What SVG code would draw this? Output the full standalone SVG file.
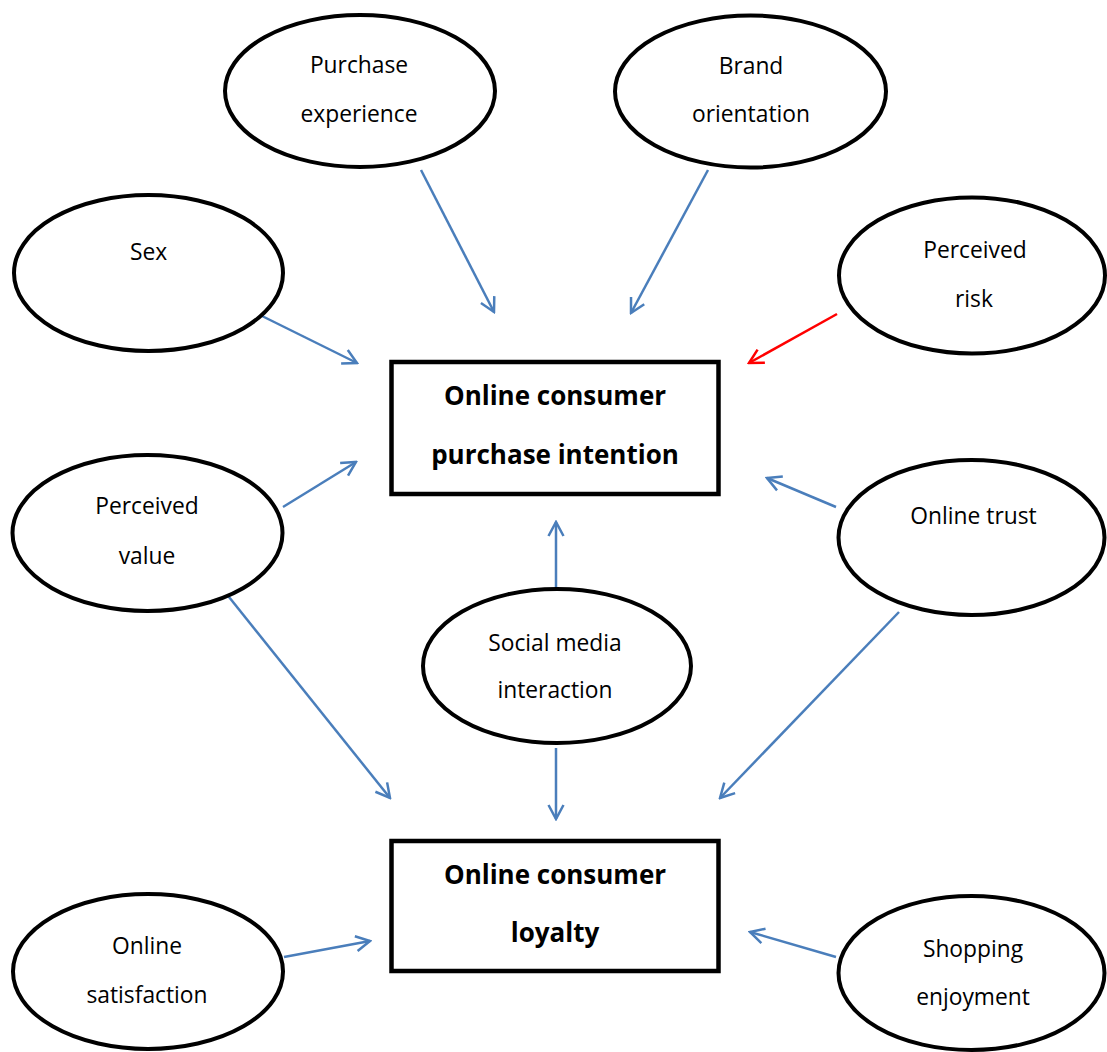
<svg xmlns="http://www.w3.org/2000/svg" width="1107" height="1052" viewBox="0 0 1107 1052">
  <style>
    .oval { fill: #ffffff; stroke: #000000; stroke-width: 4; }
    .box { fill: #ffffff; stroke: #000000; stroke-width: 4.5; }
    .lbl { font-family: "Open Sans", "Liberation Sans", sans-serif; font-size: 22.8px; fill: #000000; text-anchor: middle; }
    .head { font-family: "Open Sans", "Liberation Sans", sans-serif; font-size: 26px; font-weight: bold; fill: #000000; text-anchor: middle; }
    .edge { fill: none; stroke: #4a7ebb; stroke-width: 2.5; marker-end: url(#openBlue); }
    .edge.neg { stroke: #ff0000; marker-end: url(#openRed); }
  </style>
  <defs>
    <marker id="openBlue" viewBox="0 0 18 18" refX="16" refY="9" markerWidth="18" markerHeight="18" markerUnits="userSpaceOnUse" orient="auto">
      <path d="M2,1.5 L16,9 L2,16.5" fill="none" stroke="#4a7ebb" stroke-width="2.5"/>
    </marker>
    <marker id="openRed" viewBox="0 0 18 18" refX="16" refY="9" markerWidth="18" markerHeight="18" markerUnits="userSpaceOnUse" orient="auto">
      <path d="M2,1.5 L16,9 L2,16.5" fill="none" stroke="#ff0000" stroke-width="2.5"/>
    </marker>
  </defs>

  <rect width="1107" height="1052" fill="#ffffff"/>

  <!-- connectors -->
  <g id="connectors">
    <line class="edge" x1="421" y1="170" x2="494" y2="312"/>
    <line class="edge" x1="708" y1="170" x2="631" y2="313"/>
    <line class="edge" x1="260" y1="315" x2="357" y2="363"/>
    <line class="edge neg" x1="837" y1="314" x2="749" y2="363"/>
    <line class="edge" x1="283" y1="507" x2="356" y2="462"/>
    <line class="edge" x1="836" y1="507" x2="767" y2="478"/>
    <line class="edge" x1="556" y1="588" x2="556" y2="522"/>
    <line class="edge" x1="556" y1="748" x2="556" y2="819"/>
    <line class="edge" x1="225" y1="592" x2="390" y2="798"/>
    <line class="edge" x1="899" y1="612" x2="720" y2="798"/>
    <line class="edge" x1="284" y1="957" x2="370" y2="941"/>
    <line class="edge" x1="836" y1="957" x2="750" y2="932"/>
  </g>

  <!-- outcome boxes -->
  <g id="purchase-intention">
    <rect class="box" x="391.5" y="362" width="327" height="132"/>
    <text class="head" x="555" y="405">Online consumer</text>
    <text class="head" x="555" y="464">purchase intention</text>
  </g>
  <g id="loyalty">
    <rect class="box" x="391.5" y="841" width="327" height="130"/>
    <text class="head" x="555" y="884">Online consumer</text>
    <text class="head" x="555" y="942">loyalty</text>
  </g>

  <!-- factor ovals -->
  <g id="purchase-experience">
    <ellipse class="oval" cx="360" cy="91" rx="135" ry="76"/>
    <text class="lbl" x="359" y="73">Purchase</text>
    <text class="lbl" x="359" y="122">experience</text>
  </g>
  <g id="brand-orientation">
    <ellipse class="oval" cx="750.5" cy="91.5" rx="135.5" ry="76"/>
    <text class="lbl" x="751" y="74">Brand</text>
    <text class="lbl" x="751" y="122">orientation</text>
  </g>
  <g id="sex">
    <ellipse class="oval" cx="148.5" cy="273" rx="134.5" ry="78"/>
    <text class="lbl" x="148.5" y="260">Sex</text>
  </g>
  <g id="perceived-risk">
    <ellipse class="oval" cx="972" cy="275.5" rx="133" ry="78"/>
    <text class="lbl" x="975" y="258">Perceived</text>
    <text class="lbl" x="974" y="307">risk</text>
  </g>
  <g id="perceived-value">
    <ellipse class="oval" cx="147.5" cy="533" rx="135" ry="78"/>
    <text class="lbl" x="147" y="514">Perceived</text>
    <text class="lbl" x="147" y="564">value</text>
  </g>
  <g id="online-trust">
    <ellipse class="oval" cx="971.5" cy="537.5" rx="133" ry="77.5"/>
    <text class="lbl" x="973.5" y="524">Online trust</text>
  </g>
  <g id="social-media-interaction">
    <ellipse class="oval" cx="557" cy="666" rx="134" ry="77"/>
    <text class="lbl" x="555" y="651">Social media</text>
    <text class="lbl" x="555" y="698">interaction</text>
  </g>
  <g id="online-satisfaction">
    <ellipse class="oval" cx="148" cy="971.5" rx="135" ry="77.5"/>
    <text class="lbl" x="147" y="954">Online</text>
    <text class="lbl" x="147" y="1003">satisfaction</text>
  </g>
  <g id="shopping-enjoyment">
    <ellipse class="oval" cx="971.5" cy="973" rx="133" ry="77"/>
    <text class="lbl" x="973" y="957">Shopping</text>
    <text class="lbl" x="973" y="1005">enjoyment</text>
  </g>
</svg>
